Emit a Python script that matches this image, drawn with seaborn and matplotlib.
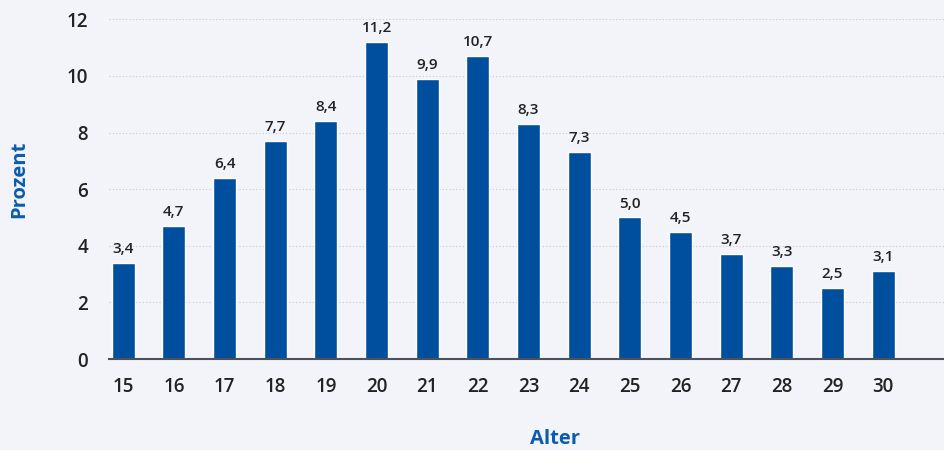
import numpy as np
import pandas as pd
import matplotlib
matplotlib.use("Agg")
import matplotlib.pyplot as plt
import seaborn as sns

# Altersverteilung in Prozent
ages = ["15", "16", "17", "18", "19", "20", "21", "22",
        "23", "24", "25", "26", "27", "28", "29", "30"]
percent = [3.4, 4.7, 6.4, 7.7, 8.4, 11.2, 9.9, 10.7,
           8.3, 7.3, 5.0, 4.5, 3.7, 3.3, 2.5, 3.1]
y_ticks = [0, 2, 4, 6, 8, 10, 12]

BG = "#f3f4f9"
BAR = "#004f9f"
BLUE = "#0a5cad"
TEXT = "#222222"


def main():
    sns.set_theme(style="white")
    plt.rcParams["font.family"] = ["Open Sans", "DejaVu Sans"]

    df = pd.DataFrame({"Alter": ages, "Prozent": percent})

    fig = plt.figure(figsize=(9.44, 4.5), dpi=100, facecolor=BG)
    ax = fig.add_axes([0.1155, 0.2022, 0.8845, 0.7549])
    ax.set_facecolor(BG)

    sns.barplot(data=df, x="Alter", y="Prozent", color=BAR, width=0.45,
                saturation=1, ax=ax, zorder=3)

    labels = [f"{v:.1f}".replace(".", ",") for v in percent]
    ax.bar_label(ax.containers[0], labels=labels, padding=5,
                 fontsize=11, fontweight="semibold", color=TEXT)

    ax.set_ylim(0, 12)
    ax.set_xlim(-0.28, 16.2)
    ax.set_yticks(y_ticks)
    ax.yaxis.grid(True, linestyle=(0, (1, 2)), color="#c8c9cf", linewidth=0.8)
    ax.set_axisbelow(True)
    for s in ["top", "right", "left"]:
        ax.spines[s].set_visible(False)
    ax.spines["bottom"].set_color("#4d5258")
    ax.spines["bottom"].set_linewidth(1.5)
    ax.spines["bottom"].set_zorder(4)

    ax.tick_params(axis="x", length=0, pad=13, labelsize=13.5, labelcolor=TEXT)
    ax.tick_params(axis="y", length=0, pad=15, labelsize=13.5, labelcolor=TEXT)
    for t in ax.get_xticklabels() + ax.get_yticklabels():
        t.set_fontweight("semibold")

    ax.set_xlabel("Alter", fontsize=14.5, fontweight="bold", color=BLUE, labelpad=23)
    ax.set_ylabel("Prozent", fontsize=14.5, fontweight="bold", color=BLUE, labelpad=27)
    ax.xaxis.label.set_x(0.534)
    ax.yaxis.label.set_y(0.53)

    fig.savefig("out.png", dpi=100, facecolor=BG)


if __name__ == "__main__":
    main()
